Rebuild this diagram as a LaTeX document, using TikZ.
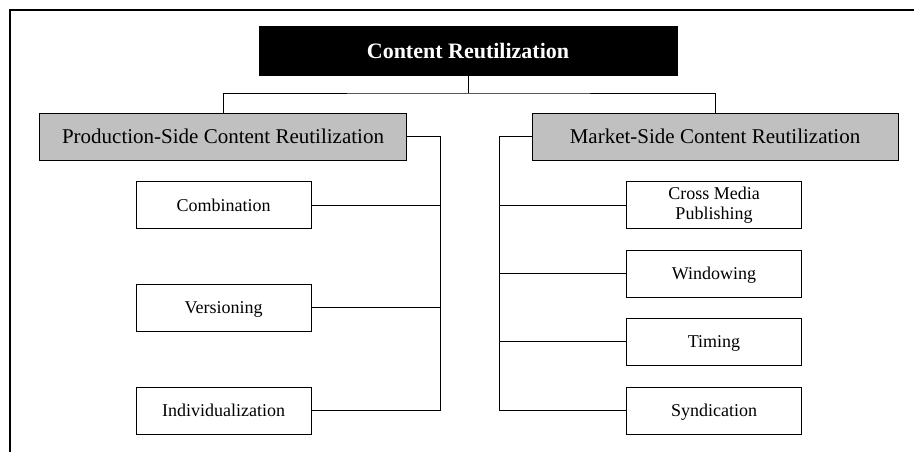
\documentclass[tikz,border=0pt]{standalone}
\usepackage{fontspec}
\setmainfont{Liberation Serif}
\definecolor{boxgray}{RGB}{192,192,192}
\begin{document}
\begin{tikzpicture}[x=1pt,y=-1pt,
  every node/.style={inner sep=0pt, outer sep=0pt, text=black},
  topbox/.style={draw=black, fill=black, text=white, minimum width=418pt, minimum height=49pt, font=\fontsize{22}{24}\selectfont\bfseries},
  graybox/.style={draw=black, line width=0.9pt, fill=boxgray, minimum width=367pt, minimum height=47pt, text height=16pt, text depth=2pt, font=\fontsize{21}{24}\selectfont},
  childbox/.style={draw=black, line width=0.9pt, fill=white, minimum width=175pt, minimum height=47pt, align=center, font=\fontsize{18}{20}\selectfont},
  oneline/.style={text height=14pt, text depth=2pt},
  conn/.style={draw=black, line width=0.9pt},
  frame/.style={draw=black, line width=2.2pt}]
\useasboundingbox (0,0) rectangle (914,451);
\draw[frame] (10,452) -- (10,10) -- (915,10);

\node[topbox] (top) at (468,51) {Content Reutilization};
\node[graybox] (lgray) at (223,136.5) {Production-Side Content Reutilization};
\node[graybox, minimum width=366pt] (rgray) at (715,136.5) {Market-Side Content Reutilization};

\node[childbox, oneline] (comb) at (223.5,205) {Combination};
\node[childbox, oneline] (vers) at (223.5,307.5) {Versioning};
\node[childbox, oneline] (indiv) at (223.5,410.5) {Individualization};

\node[childbox] (cross) at (714,205) {Cross Media\\Publishing};
\node[childbox, oneline] (wind) at (714,273.5) {Windowing};
\node[childbox, oneline] (timing) at (714,341.5) {Timing};
\node[childbox, oneline] (synd) at (714,410.5) {Syndication};

\coordinate (hb) at (468,93);
\coordinate (lbus) at (440,136.5);
\coordinate (rbus) at (499,136.5);

\draw[conn] (top.south) -- (hb);
\draw[conn] (lgray.north) |- (hb) -| (rgray.north);

\draw[conn] (lgray.east) -- (lbus) |- (indiv.east);
\draw[conn] (comb.east) -- (comb.east -| lbus);
\draw[conn] (vers.east) -- (vers.east -| lbus);

\draw[conn] (rgray.west) -- (rbus) |- (synd.west);
\draw[conn] (cross.west) -- (cross.west -| rbus);
\draw[conn] (wind.west) -- (wind.west -| rbus);
\draw[conn] (timing.west) -- (timing.west -| rbus);
\end{tikzpicture}
\end{document}
